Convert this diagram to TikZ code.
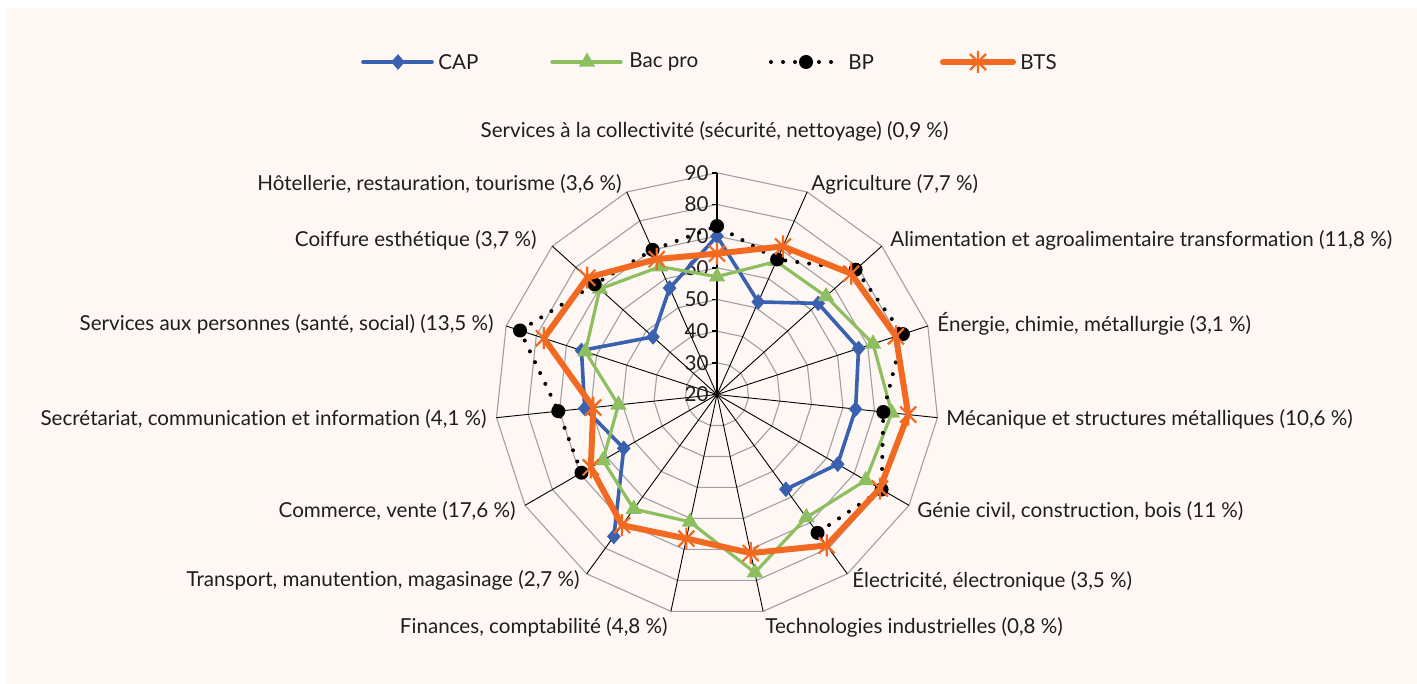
\documentclass[tikz,border=0pt]{standalone}
\usepackage{fontspec}
\setmainfont{Lato}[Ligatures=NoCommon]
\usetikzlibrary{shapes.geometric}

\definecolor{capblue}{RGB}{58,96,176}
\definecolor{bacgreen}{RGB}{141,191,96}
\definecolor{btsorange}{RGB}{242,106,33}
\definecolor{bgpink}{RGB}{254,247,244}
\definecolor{gridgrey}{RGB}{160,160,160}
\definecolor{ink}{RGB}{30,30,30}

\def\rs{3.167}
\def\R{221.7}

\begin{document}
\begin{tikzpicture}[x=0.5pt, y=0.5pt, font=\fontsize{10.3}{12}\selectfont, text=ink,
    gridline/.style = {draw=gridgrey, line width=0.55pt},
    spoke/.style = {draw=black, line width=0.45pt},
    axisline/.style = {draw=black, line width=0.9pt},
    lab/.style = {inner sep=0pt},
    ticklab/.style = {inner sep=0pt, anchor=east},
    capline/.style = {draw=capblue, line width=1.8pt, line join=round},
    bacline/.style = {draw=bacgreen, line width=1.6pt, line join=round},
    bpline/.style = {draw=black, line width=2pt, line cap=round, dash pattern=on 0pt off 6pt},
    btsline/.style = {draw=btsorange, line width=3pt, line join=round},
    capmark/.style = {diamond, fill=capblue, inner sep=0pt, minimum width=7pt, minimum height=8pt},
    bacmark/.style = {regular polygon, regular polygon sides=3, fill=bacgreen, inner sep=0pt, minimum size=9.5pt},
    bpmark/.style = {circle, fill=black, inner sep=0pt, minimum size=7pt},
    xstar/.pic = {\draw[btsorange, line width=1.1pt] (-8,-8) -- (8,8) (-8,8) -- (8,-8) (0,-11) -- (0,11);}]
    \useasboundingbox (0,0) rectangle (1417,-684);
    \fill[white] (0,0) rectangle (1417,-684);
    \fill[bgpink] (6,-8) rectangle (1417,-684);

    % legend
    \coordinate (lgcapa) at (363,-62);  \coordinate (lgcapb) at (432,-62);
    \coordinate (lgbaca) at (552,-62);  \coordinate (lgbacb) at (621,-62);
    \coordinate (lgbpa)  at (771,-62);  \coordinate (lgbpb)  at (839,-62);
    \coordinate (lgbtsa) at (943,-62);  \coordinate (lgbtsb) at (1013,-62);
    \draw[capline, line cap=round] (lgcapa) -- (lgcapb);
    \node[capmark] at (398,-62) {};
    \draw[bacline, line cap=round] (lgbaca) -- (lgbacb);
    \node[bacmark] at (587,-62) {};
    \draw[bpline] (lgbpa) -- (lgbpb);
    \node[bpmark] at (806,-62) {};
    \draw[btsline, line cap=round] (lgbtsa) -- (lgbtsb);
    \pic at (978,-62) {xstar};
    \node[lab, anchor=west] (lgcap) at (438,-62)  {CAP};
    \node[lab, anchor=west] (lgbac) at (629,-62)  {Bac pro};
    \node[lab, anchor=west] (lgbp)  at (848,-62)  {BP};
    \node[lab, anchor=west] (lgbts) at (1020,-62) {BTS};

    % category labels
    \foreach \k/\x/\y/\a/\t in {
        0/714.5/131/center/{Services à la collectivité (sécurité, nettoyage) (0,9~\%)},
        1/811/184/west/{Agriculture (7,7~\%)},
        2/890/240/west/{Alimentation et agroalimentaire transformation (11,8~\%)},
        3/937/324/west/{Énergie, chimie, métallurgie (3,1~\%)},
        4/946/419/west/{Mécanique et structures métalliques (10,6~\%)},
        5/917/511/west/{Génie civil, construction, bois (11~\%)},
        6/852/580/west/{Électricité, électronique (3,5~\%)},
        7/765/627/west/{Technologies industrielles (0,8~\%)},
        8/668/627/east/{Finances, comptabilité (4,8~\%)},
        9/580/580/east/{Transport, manutention, magasinage (2,7~\%)},
        10/516/511/east/{Commerce, vente (17,6~\%)},
        11/487/419/east/{Secrétariat, communication et information (4,1~\%)},
        12/494/324/east/{Services aux personnes (santé, social) (13,5~\%)},
        13/537/240/east/{Coiffure esthétique (3,7~\%)},
        14/622/184/east/{Hôtellerie, restauration, tourisme (3,6~\%)}}
        \node[lab, anchor=\a] (lab\k) at (\x,-\y) {\t};

    \begin{scope}[shift={(717,-394.5)}]
        % grid
        \foreach \v in {30,40,...,90}
            \draw[gridline] (90:{(\v-20)*\rs}) \foreach \k in {1,...,14} {-- ({90-24*\k}:{(\v-20)*\rs})} -- cycle;
        \foreach \k in {1,...,14}
            \draw[spoke] (0,0) -- ({90-24*\k}:\R);
        \draw[axisline] (0,0) -- (90:\R);
        \foreach \v in {20,30,...,90} {
            \draw[axisline] (-5,{(\v-20)*\rs}) -- (0,{(\v-20)*\rs});
            \node[ticklab] (t\v) at (-8,{(\v-20)*\rs}) {\v};
        }

        % data points
        \foreach \k/\v in {0/70,1/52,2/63,3/67,4/64,5/64,6/57,9/75.4,10/54,11/62,12/65,13/47.2,14/56.8}
            \coordinate (cap\k) at ({90-24*\k}:{(\v-20)*\rs});
        \foreach \k/\v in {0/57.2,1/66,2/66.3,3/71.8,4/75.5,5/74.2,6/68,7/77.5,8/61.1,9/64.7,10/61.6,11/51.3,12/63.7,13/69.8,14/64.2}
            \coordinate (bac\k) at ({90-24*\k}:{(\v-20)*\rs});
        \foreach \k/\v in {0/73.2,1/66.7,2/78.9,3/81.7,4/72.8,5/80,6/74,10/69.4,11/70.4,12/85.4,13/72,14/70}
            \coordinate (bp\k) at ({90-24*\k}:{(\v-20)*\rs});
        \foreach \k/\v in {0/64.5,1/71.2,2/77,3/79.4,4/80.7,5/79.4,6/78.9,7/71.2,8/66.5,9/71,10/66,11/59.3,12/77.5,13/75.1,14/66.8}
            \coordinate (bts\k) at ({90-24*\k}:{(\v-20)*\rs});

        % CAP
        \draw[capline] (cap9) \foreach \k in {10,11,12,13,14,0,1,2,3,4,5,6} {-- (cap\k)};
        \foreach \k in {0,...,6,9,10,...,14}
            \node[capmark] at (cap\k) {};
        % Bac pro
        \draw[bacline] (bac0) \foreach \k in {1,...,14} {-- (bac\k)} -- cycle;
        \foreach \k in {0,...,14}
            \node[bacmark] at (bac\k) {};
        % BP
        \draw[bpline] (bp10) \foreach \k in {11,12,13,14,0,1,2,3,4,5,6} {-- (bp\k)};
        \foreach \k in {0,...,6,10,11,...,14}
            \node[bpmark] at (bp\k) {};
        % BTS
        \draw[btsline] (bts0) \foreach \k in {1,...,14} {-- (bts\k)} -- cycle;
        \foreach \k in {0,...,14}
            \pic at (bts\k) {xstar};
    \end{scope}
\end{tikzpicture}
\end{document}
